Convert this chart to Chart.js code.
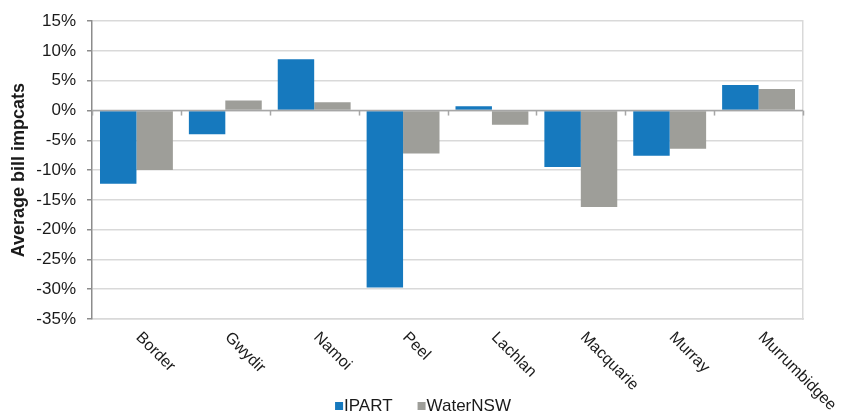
<!DOCTYPE html>
<html>
<head>
<meta charset="utf-8">
<script src="https://cdn.jsdelivr.net/npm/chart.js@4.4.1/dist/chart.umd.min.js"></script>
<style>
  html, body { margin: 0; padding: 0; background: #fff; }
  #wrap { width: 843px; height: 417px; }
</style>
</head>
<body>
<div id="wrap"><canvas id="billChart" width="843" height="417"></canvas></div>
<script>
// chart data
const regions = ['Border', 'Gwydir', 'Namoi', 'Peel', 'Lachlan', 'Macquarie', 'Murray', 'Murrumbidgee'];
const ipartValues = [-12.3, -4.0, 8.6, -29.7, 0.7, -9.5, -7.6, 4.3];
const waterNswValues = [-10.0, 1.7, 1.4, -7.2, -2.4, -16.2, -6.4, 3.6];
const yTicks = [15, 10, 5, 0, -5, -10, -15, -20, -25, -30, -35];

const FONT = 'Liberation Sans, Arial, sans-serif';
const gridGrey = '#d9d9d9';

// x labels rotated down-right, zero line ticks, legend
const extrasPlugin = {
  id: 'extras',
  afterDatasetsDraw(chart) {
    const ctx = chart.ctx;
    const x = chart.scales.x;
    const y = chart.scales.y;
    const y0 = y.getPixelForValue(0);
    const step = x.getPixelForValue(1) - x.getPixelForValue(0);

    ctx.save();
    // zero line
    ctx.strokeStyle = '#a6a6a6';
    ctx.lineWidth = 1.5;
    ctx.beginPath();
    ctx.moveTo(chart.chartArea.left, y0);
    ctx.lineTo(chart.chartArea.right, y0);
    ctx.stroke();
    // boundary ticks below the zero line
    for (let i = 0; i <= regions.length; i++) {
      const px = Math.round(x.getPixelForValue(0) - step / 2 + i * step) + 0.5;
      ctx.beginPath();
      ctx.moveTo(px, y0);
      ctx.lineTo(px, y0 + 5);
      ctx.stroke();
    }
    ctx.restore();
  },
  afterDraw(chart) {
    const ctx = chart.ctx;
    const x = chart.scales.x;

    ctx.save();
    ctx.fillStyle = '#1a1a1a';
    ctx.font = '16px ' + FONT;
    ctx.textAlign = 'left';
    ctx.textBaseline = 'middle';
    chart.data.labels.forEach(function (lab, i) {
      ctx.save();
      ctx.translate(x.getPixelForValue(i) + 2, chart.chartArea.bottom + 16);
      ctx.rotate(Math.PI / 4);
      ctx.fillText(lab, 0, 0);
      ctx.restore();
    });

    // legend
    ctx.font = '17px ' + FONT;
    const items = chart.data.datasets.map(function (ds) {
      return { text: ds.label, color: ds.backgroundColor, w: ctx.measureText(ds.label).width };
    });
    const box = 8, gap = 1, between = 25;
    let total = 0;
    items.forEach(function (it, i) { total += box + gap + it.w + (i ? between : 0); });
    let cx = 423 - total / 2;
    const cy = 406;
    items.forEach(function (it) {
      ctx.fillStyle = it.color;
      ctx.fillRect(cx, cy - 4, box, box);
      ctx.fillStyle = '#1a1a1a';
      ctx.fillText(it.text, cx + box + gap, cy);
      cx += box + gap + it.w + between;
    });
    ctx.restore();
  }
};

new Chart(document.getElementById('billChart'), {
  type: 'bar',
  data: {
    labels: regions,
    datasets: [
      {
        label: 'IPART',
        data: ipartValues,
        backgroundColor: '#1679be',
        categoryPercentage: 0.82,
        barPercentage: 1.0
      },
      {
        label: 'WaterNSW',
        data: waterNswValues,
        backgroundColor: '#9e9e99',
        categoryPercentage: 0.82,
        barPercentage: 1.0
      }
    ]
  },
  options: {
    responsive: false,
    animation: false,
    devicePixelRatio: 1,
    layout: { padding: { top: 19, left: 0, right: 0, bottom: 0 } },
    plugins: {
      legend: { display: false },
      tooltip: { enabled: false }
    },
    scales: {
      x: {
        grid: { display: false },
        border: { color: gridGrey, width: 1.5 },
        ticks: { display: false },
        afterFit: function (s) { s.height = 98; }
      },
      y: {
        min: -35,
        max: 15,
        afterBuildTicks: function (s) { s.ticks = yTicks.map(v => ({ value: v })); },
        grid: {
          color: gridGrey,
          lineWidth: 1.5,
          tickLength: 5,
          tickColor: '#8c8c8c'
        },
        border: { color: '#8c8c8c', width: 1.5 },
        ticks: {
          padding: 11,
          color: '#1a1a1a',
          font: { family: FONT, size: 17 },
          callback: v => v + '%'
        },
        title: {
          display: true,
          text: 'Average bill impcats',
          color: '#1a1a1a',
          font: { family: FONT, size: 18, weight: 'bold' },
          padding: { top: 8, bottom: 0 }
        },
        afterFit: function (s) { s.width = 92; }
      },
      y2: {
        position: 'right',
        min: -35,
        max: 15,
        grid: { drawOnChartArea: false, drawTicks: false },
        border: { color: gridGrey, width: 1.5 },
        ticks: { display: false },
        afterFit: function (s) { s.width = 40; }
      }
    }
  },
  plugins: [extrasPlugin]
});
</script>
</body>
</html>
